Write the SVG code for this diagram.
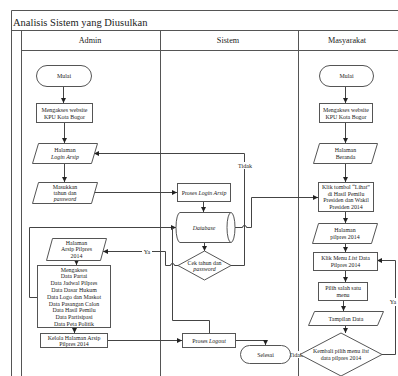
<svg xmlns="http://www.w3.org/2000/svg" width="398" height="376" viewBox="0 0 398 376">
<style>
.ln{fill:none;stroke:#444;stroke-width:1}
.frame{fill:none;stroke:#555;stroke-width:1}
.nd{fill:#fff;stroke:#555;stroke-width:1}
text{font-family:"Liberation Serif","Times New Roman",serif;fill:#222;text-anchor:middle}
.t{font-size:5.9px}
.hd{font-size:8.2px}
.lb{font-size:6px}
.it{font-style:italic}
</style>
<defs>
<marker id="ah" markerWidth="6" markerHeight="6" refX="5" refY="3" orient="auto" markerUnits="userSpaceOnUse">
<path d="M0,0.5 L5,3 L0,5.5 Z" fill="#222"/>
</marker>
</defs>
<rect width="398" height="376" fill="#fff"/>
<g id="frame">
<path class="frame" d="M11.5,376 V10.5 H398 M11.5,30.5 H398 M21.5,30.5 V376 M21.5,50.5 H398 M160.5,30.5 V376 M298.5,30.5 V376"/>
<text x="13" y="26" style="font-size:10.5px;text-anchor:start">Analisis Sistem yang Diusulkan</text>
<text class="hd" x="90" y="43">Admin</text>
<text class="hd" x="228" y="43">Sistem</text>
<text class="hd" x="347" y="43">Masyarakat</text>
</g>
<g id="connectors">
<path class="ln" d="M63.5,87 V103" marker-end="url(#ah)"/>
<path class="ln" d="M64.5,123 V143" marker-end="url(#ah)"/>
<path class="ln" d="M64.5,163 V182" marker-end="url(#ah)"/>
<path class="ln" d="M94,192.5 H177" marker-end="url(#ah)"/>
<path class="ln" d="M203.5,202 V212" marker-end="url(#ah)"/>
<path class="ln" d="M204.5,242 V251" marker-end="url(#ah)"/>
<path class="ln" d="M231,265.5 H244.5 V153.5 H94" marker-end="url(#ah)"/>
<path class="ln" d="M235,227.5 H242.5 A2,2 0 0 1 246.5,227.5 H251.5 V197.5 H318" marker-end="url(#ah)"/>
<path class="ln" d="M178,265.5 H174.5 A2,2 0 0 0 170.5,265.5 H165.5 V251.5 H103" marker-end="url(#ah)"/>
<path class="ln" d="M37,297.5 H29.5 V227.5 H176" marker-end="url(#ah)"/>
<path class="ln" d="M209.5,333 V320.5 H172.5 V227.5"/>
<path class="ln" d="M76.5,260 V265" marker-end="url(#ah)"/>
<path class="ln" d="M74.5,328 V333" marker-end="url(#ah)"/>
<path class="ln" d="M107,340.5 H182" marker-end="url(#ah)"/>
<path class="ln" d="M235,340.5 H265.5 V345" marker-end="url(#ah)"/>
<path class="ln" d="M300,354.5 H290" marker-end="url(#ah)"/>
<path class="ln" d="M345.5,87 V103" marker-end="url(#ah)"/>
<path class="ln" d="M345.5,123 V143" marker-end="url(#ah)"/>
<path class="ln" d="M345.5,163 V182" marker-end="url(#ah)"/>
<path class="ln" d="M345.5,212 V223" marker-end="url(#ah)"/>
<path class="ln" d="M345.5,243 V252" marker-end="url(#ah)"/>
<path class="ln" d="M345.5,271 V282" marker-end="url(#ah)"/>
<path class="ln" d="M343.5,301 V311" marker-end="url(#ah)"/>
<path class="ln" d="M345.5,325 V333" marker-end="url(#ah)"/>
<path class="ln" d="M382,354.5 H395.5 V260.5 H377" marker-end="url(#ah)"/>
<rect x="237" y="162" width="16" height="7" fill="#fff"/>
<text class="lb" x="245" y="167.5">Tidak</text>
<rect x="142" y="248" width="10" height="7" fill="#fff"/>
<text class="lb" x="147" y="253.5">Ya</text>
<rect x="291" y="351" width="10" height="7" fill="#fff"/>
<text class="lb" x="296" y="356.5">Tidak</text>
<rect x="389" y="298" width="10" height="8" fill="#fff"/>
<text class="lb" x="393" y="304">Ya</text>
</g>
<g id="a-mulai">
<rect class="nd" x="36.5" y="65.5" width="55" height="21" rx="10.5"/>
<text class="t" x="64" y="78">Mulai</text>
</g>
<g id="a-akses">
<rect class="nd" x="36.5" y="103.5" width="56" height="19"/>
<text class="t" x="64.5" y="111.5">Mengakses website</text>
<text class="t" x="64.5" y="118.5">KPU Kota Bogor</text>
</g>
<g id="a-halaman-login">
<polygon class="nd" points="38.5,143.5 97.5,143.5 91.5,163.5 32.5,163.5"/>
<text class="t" x="65" y="152">Halaman</text>
<text class="t it" x="65" y="158.5">Login Arsip</text>
</g>
<g id="a-masukkan">
<polygon class="nd" points="38.5,182.5 97.5,182.5 91.5,203.5 32.5,203.5"/>
<text class="t" x="65" y="188.5">Masukkan</text>
<text class="t" x="65" y="194.5">tahun dan</text>
<text class="t it" x="65" y="200.5">password</text>
</g>
<g id="a-halaman-arsip">
<polygon class="nd" points="52.5,238.5 106.5,238.5 100.5,260.5 46.5,260.5"/>
<text class="t" x="76.5" y="244.5">Halaman</text>
<text class="t" x="76.5" y="251">Arsip Pilpres</text>
<text class="t" x="76.5" y="257.5">2014</text>
</g>
<g id="a-mengakses-data">
<rect class="nd" x="37.5" y="265.5" width="73" height="62"/>
<text class="t" x="74" y="271.5">Mengakses</text>
<text class="t" x="74" y="278.3">Data Partai</text>
<text class="t" x="74" y="285.1">Data Jadwal Pilpres</text>
<text class="t" x="74" y="291.9">Data Dasar Hukum</text>
<text class="t" x="74" y="298.7">Data Logo dan Maskot</text>
<text class="t" x="74" y="305.5">Data Pasangan Calon</text>
<text class="t" x="74" y="312.3">Data Hasil Pemilu</text>
<text class="t" x="74" y="319.1">Data Partisipasi</text>
<text class="t" x="74" y="325.9">Data Peta Politik</text>
</g>
<g id="a-kelola">
<rect class="nd" x="40.5" y="333.5" width="67" height="14"/>
<text class="t" x="74" y="339.5">Kelola Halaman Arsip</text>
<text class="t" x="74" y="345.5">Pilpres 2014</text>
</g>
<g id="s-login">
<rect class="nd" x="177.5" y="183.5" width="53" height="18"/>
<text class="t" x="204" y="194.5">Proses <tspan class="it">Login Arsip</tspan></text>
</g>
<g id="s-database">
<path class="nd" d="M180,212.5 H231 V242.5 H180 A4,15 0 0 1 180,212.5 Z"/>
<ellipse class="nd" cx="231" cy="227.5" rx="4" ry="15"/>
<text class="t it" x="204" y="229.5">Database</text>
</g>
<g id="s-cek">
<polygon class="nd" points="204.5,251 231,265.5 204.5,280 178,265.5"/>
<text class="t" x="204.5" y="264.5">Cek tahun dan</text>
<text class="t it" x="204.5" y="271">password</text>
</g>
<g id="s-logout">
<rect class="nd" x="182.5" y="333.5" width="53" height="14"/>
<text class="t" x="209" y="342.5">Proses <tspan class="it">Logout</tspan></text>
</g>
<g id="s-selesai">
<rect class="nd" x="240.5" y="345.5" width="50" height="18" rx="9"/>
<text class="t" x="265.5" y="356.5">Selesai</text>
</g>
<g id="m-mulai">
<rect class="nd" x="319.5" y="65.5" width="54" height="21" rx="10.5"/>
<text class="t" x="346.5" y="78">Mulai</text>
</g>
<g id="m-akses">
<rect class="nd" x="319.5" y="103.5" width="53" height="19"/>
<text class="t" x="346" y="111.5">Mengakses website</text>
<text class="t" x="346" y="118.5">KPU Kota Bogor</text>
</g>
<g id="m-beranda">
<polygon class="nd" points="319.5,143.5 377.5,143.5 371.5,163.5 313.5,163.5"/>
<text class="t" x="345.5" y="152">Halaman</text>
<text class="t" x="345.5" y="158.5">Beranda</text>
</g>
<g id="m-klik-lihat">
<rect class="nd" x="318.5" y="182.5" width="55" height="29"/>
<text class="t" x="346" y="189">Klik tombol “Lihat”</text>
<text class="t" x="346" y="195.5">di Hasil Pemilu</text>
<text class="t" x="346" y="202">Presiden dan Wakil</text>
<text class="t" x="346" y="208.5">Presiden 2014</text>
</g>
<g id="m-halaman-pilpres">
<polygon class="nd" points="318.5,223.5 377.5,223.5 371.5,243.5 312.5,243.5"/>
<text class="t" x="345" y="232">Halaman</text>
<text class="t" x="345" y="238.5">pilpres 2014</text>
</g>
<g id="m-klik-menu">
<rect class="nd" x="313.5" y="252.5" width="64" height="18"/>
<text class="t" x="345.5" y="260">Klik Menu <tspan class="it">List</tspan> Data</text>
<text class="t" x="345.5" y="266.5">Pilpres 2014</text>
</g>
<g id="m-pilih">
<rect class="nd" x="318.5" y="282.5" width="49" height="18"/>
<text class="t" x="343" y="290">Pilih salah satu</text>
<text class="t" x="343" y="296.5">menu</text>
</g>
<g id="m-tampilan">
<polygon class="nd" points="314.5,311.5 383.5,311.5 377.5,325.5 308.5,325.5"/>
<text class="t" x="346" y="320.5">Tampilan Data</text>
</g>
<g id="m-kembali">
<polygon class="nd" points="341,333 382,354.5 341,376 300,354.5"/>
<text class="t" x="341" y="353">Kembali pilih menu <tspan class="it">list</tspan></text>
<text class="t" x="341" y="359.5">data pilpres 2014</text>
</g>
</svg>
